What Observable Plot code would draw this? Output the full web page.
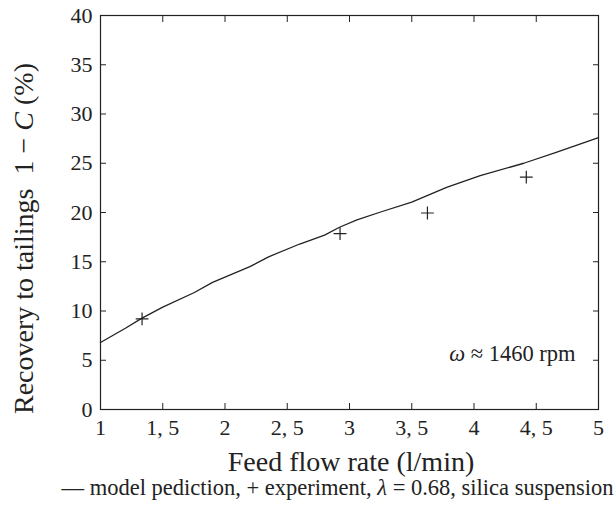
<!DOCTYPE html>
<html><head><meta charset="utf-8">
<script src="https://cdn.jsdelivr.net/npm/d3@7"></script>
<script src="https://cdn.jsdelivr.net/npm/@observablehq/plot@0.6"></script>
<style>
body{margin:0;background:#fff}
svg text{font-family:"Liberation Serif","Times New Roman",serif}
</style>
</head><body><div id="chart"></div>
<script>
// model prediction curve
const modelFlow = [1.0, 1.2, 1.33, 1.5, 1.75, 1.9, 2.2, 2.35, 2.6, 2.8, 2.92, 3.06, 3.25, 3.5, 3.78, 4.05, 4.4, 4.66, 5.0];
const modelRecovery = [6.8, 8.25, 9.25, 10.4, 11.85, 12.9, 14.5, 15.5, 16.8, 17.7, 18.5, 19.25, 20.05, 21.05, 22.55, 23.75, 25.0, 26.1, 27.6];
// experiment
const expFlow = [1.334, 2.924, 3.626, 4.42];
const expRecovery = [9.2, 17.85, 19.95, 23.6];
// ticks
const xTicks = [1, 1.5, 2, 2.5, 3, 3.5, 4, 4.5, 5];
const yTicks = [0, 5, 10, 15, 20, 25, 30, 35, 40];
const xLabel = "Feed flow rate (l/min)";
const yLabel = "Recovery to tailings  1 − C (%)";
const note = "ω ≈ 1460 rpm";
const caption = "— model pediction, + experiment, λ = 0.68, silica suspension";

const model = modelFlow.map((x, i) => ({x, y: modelRecovery[i]}));
const exp = expFlow.map((x, i) => ({x, y: expRecovery[i]}));
const fmt = d => Number.isInteger(d) ? String(d) : String(d).replace(".", ", ");
const ink = "#222";

const chart = Plot.plot({
  width: 616, height: 509,
  marginLeft: 100, marginRight: 18, marginTop: 15, marginBottom: 100,
  style: {background: "#fff", color: ink, fontFamily: "Liberation Serif, serif"},
  x: {domain: [1, 5]},
  y: {domain: [0, 40]},
  marks: [
    Plot.frame({stroke: ink, strokeWidth: 1.2}),
    Plot.axisX({anchor: "bottom", ticks: xTicks, tickSize: -6, tickPadding: 16, tickFormat: fmt, label: null, fontSize: 22, stroke: ink, fill: ink}),
    Plot.axisX({anchor: "top", ticks: xTicks, tickSize: -6, tickFormat: () => "", label: null, stroke: ink}),
    Plot.axisY({anchor: "left", ticks: yTicks, tickSize: -6, tickPadding: 14, tickFormat: d => String(d), label: null, fontSize: 22, stroke: ink, fill: ink}),
    Plot.axisY({anchor: "right", ticks: yTicks, tickSize: -6, tickFormat: () => "", label: null, stroke: ink}),
    Plot.line(model, {x: "x", y: "y", stroke: ink, strokeWidth: 1.3}),
    Plot.dot(exp, {x: "x", y: "y", symbol: "plus", r: 4.2, stroke: ink, strokeWidth: 1.2}),
    Plot.text([note], {frameAnchor: "bottom-right", textAnchor: "end", dx: -23, dy: -49, fontSize: 22.5, fill: ink}),
    Plot.text([xLabel], {frameAnchor: "bottom", textAnchor: "middle", dx: 1.5, dy: 61, fontSize: 28, fill: ink}),
    Plot.text([caption], {frameAnchor: "bottom", textAnchor: "middle", dx: -12, dy: 85, fontSize: 22.5, fill: ink}),
    Plot.text([yLabel], {frameAnchor: "left", textAnchor: "middle", rotate: -90, dx: -76, dy: 26, fontSize: 28, fill: ink})
  ]
});
document.getElementById("chart").appendChild(chart);

// italic math symbols
d3.select(chart).selectAll("text").each(function() {
  const t = this.textContent;
  const map = {"C": true, "ω": true, "λ": true};
  if (t === yLabel || t === note || t === caption) {
    const parts = t.split(/(C|ω|λ)/);
    const sel = d3.select(this);
    sel.text(null);
    parts.forEach(p => {
      if (!p) return;
      const ts = sel.append("tspan").text(p);
      if (map[p]) ts.attr("font-style", "italic");
    });
  }
});
</script>
</body></html>
